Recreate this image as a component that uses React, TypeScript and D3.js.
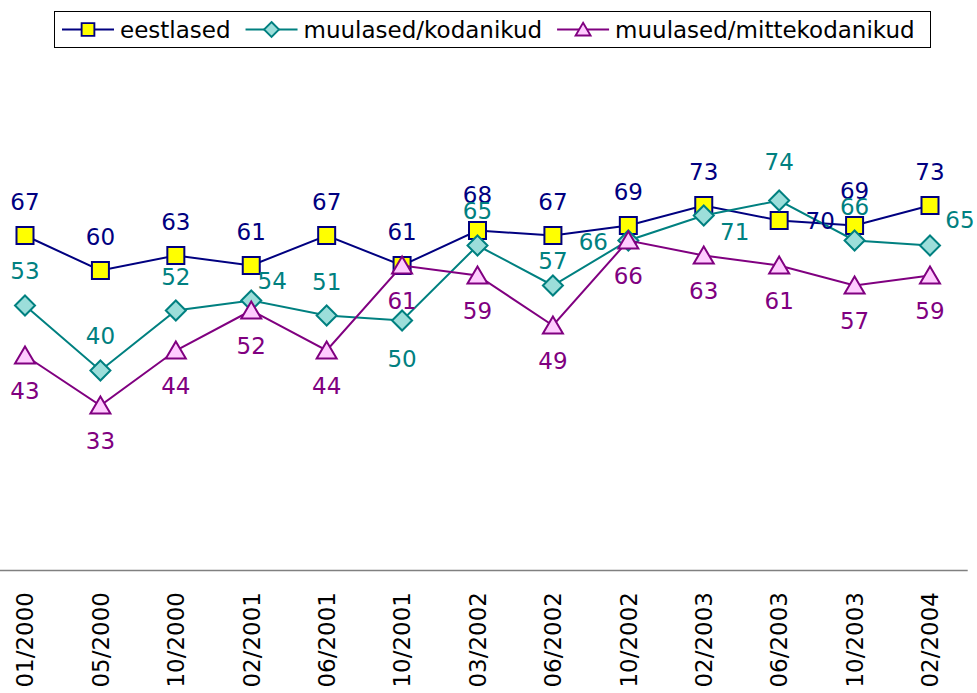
import React, { useEffect, useRef } from "react";
import * as d3 from "d3";

// survey rounds on the x axis
const dates = [
  "01/2000", "05/2000", "10/2000", "02/2001", "06/2001", "10/2001", "03/2002",
  "06/2002", "10/2002", "02/2003", "06/2003", "10/2003", "02/2004",
];

const eestlased = [67, 60, 63, 61, 67, 61, 68, 67, 69, 73, 70, 69, 73];
const kodanikud = [53, 40, 52, 54, 51, 50, 65, 57, 66, 71, 74, 66, 65];
const mittekodanikud = [43, 33, 44, 52, 44, 61, 59, 49, 66, 63, 61, 57, 59];

const seriesNames = ["eestlased", "muulased/kodanikud", "muulased/mittekodanikud"];

// where each value label sits relative to its marker (dx, dy)
const eestLabelPos = [
  [0, -34], [0, -34], [0, -34], [0, -34], [0, -34], [0, -34], [0, -36],
  [0, -34], [0, -34], [0, -34], [41, 0], [0, -35], [0, -34],
];
const kodLabelPos = [
  [0, -35], [0, -35], [0, -34], [21, -20], [0, -34], [0, 38], [0, -35],
  [0, -25], [-35, 1], [31, 16], [0, -39], [0, -34], [30, -26],
];
const mitteLabelPos = dates.map(() => [0, 35]);

const W = 977;
const H = 693;

const markers: Record<string, string> = {
  square: "M-8.5,-8.5h17v17h-17z",
  diamond: "M0,-10L10,0L0,10L-10,0Z",
  triangle: "M0,-9L10,8L-10,8Z",
};

export default function App() {
  const ref = useRef<SVGSVGElement>(null);

  useEffect(() => {
    const svg = d3.select(ref.current);
    svg.selectAll("*").remove();

    const font = "DejaVu Sans, Verdana, sans-serif";

    const x = d3.scalePoint<string>().domain(dates).range([25, 930]);
    const step = x.step();
    const y = d3.scaleLinear().domain([0, 100]).range([570.5, 70.5]);

    const series = [
      { name: seriesNames[0], values: eestlased, pos: eestLabelPos, color: "#000080", fill: "#ffff00", marker: "square" },
      { name: seriesNames[1], values: kodanikud, pos: kodLabelPos, color: "#008080", fill: "#9cdeda", marker: "diamond" },
      { name: seriesNames[2], values: mittekodanikud, pos: mitteLabelPos, color: "#800080", fill: "#ffccff", marker: "triangle" },
    ];

    // x axis line (no ticks)
    svg.append("line")
      .attr("x1", x(dates[0])! - step / 2)
      .attr("x2", x(dates[dates.length - 1])! + step / 2)
      .attr("y1", y(0))
      .attr("y2", y(0))
      .attr("stroke", "#808080")
      .attr("stroke-width", 1.5);

    // rotated date labels
    svg.append("g")
      .selectAll("text")
      .data(dates)
      .join("text")
      .attr("transform", (d) => `translate(${x(d)},592) rotate(-90)`)
      .attr("text-anchor", "end")
      .attr("dy", "0.36em")
      .attr("font-family", font)
      .attr("font-size", 23)
      .attr("fill", "#000")
      .text((d) => d);

    const line = d3.line<number>()
      .x((d, i) => x(dates[i])!)
      .y((d) => y(d));

    // lines + markers, series by series
    series.forEach((s) => {
      const g = svg.append("g");
      g.append("path")
        .attr("d", line(s.values))
        .attr("fill", "none")
        .attr("stroke", s.color)
        .attr("stroke-width", 2);
      g.selectAll("path.m")
        .data(s.values)
        .join("path")
        .attr("class", "m")
        .attr("d", markers[s.marker])
        .attr("transform", (d, i) => `translate(${x(dates[i])},${y(d)})`)
        .attr("fill", s.fill)
        .attr("stroke", s.color)
        .attr("stroke-width", 2);
    });

    // value labels on top
    series.forEach((s) => {
      svg.append("g")
        .selectAll("text")
        .data(s.values)
        .join("text")
        .attr("x", (d, i) => x(dates[i])! + s.pos[i][0])
        .attr("y", (d, i) => y(d) + s.pos[i][1])
        .attr("dy", "0.36em")
        .attr("text-anchor", "middle")
        .attr("font-family", font)
        .attr("font-size", 23)
        .attr("fill", s.color)
        .text((d) => d);
    });

    // legend box
    const legend = svg.append("g");
    legend.append("rect")
      .attr("x", 54.5)
      .attr("y", 11.5)
      .attr("width", 876)
      .attr("height", 36)
      .attr("fill", "#fff")
      .attr("stroke", "#000")
      .attr("stroke-width", 1);

    let lx = 62;
    series.forEach((s) => {
      const item = legend.append("g");
      item.append("line")
        .attr("x1", lx).attr("x2", lx + 52)
        .attr("y1", 29.5).attr("y2", 29.5)
        .attr("stroke", s.color)
        .attr("stroke-width", 2);
      item.append("path")
        .attr("d", markers[s.marker])
        .attr("transform", `translate(${lx + 26},29.5) scale(0.75)`)
        .attr("fill", s.fill)
        .attr("stroke", s.color)
        .attr("stroke-width", 2.5);
      const t = item.append("text")
        .attr("x", lx + 58)
        .attr("y", 38)
        .attr("font-family", font)
        .attr("font-size", 23)
        .attr("fill", "#000")
        .text(s.name);
      const len = (t.node() as SVGTextElement).getComputedTextLength();
      lx = lx + 58 + len + 15;
    });
  }, []);

  return (
    <svg
      ref={ref}
      width={W}
      height={H}
      style={{ position: "absolute", left: 0, top: 0, background: "#fff" }}
    />
  );
}
